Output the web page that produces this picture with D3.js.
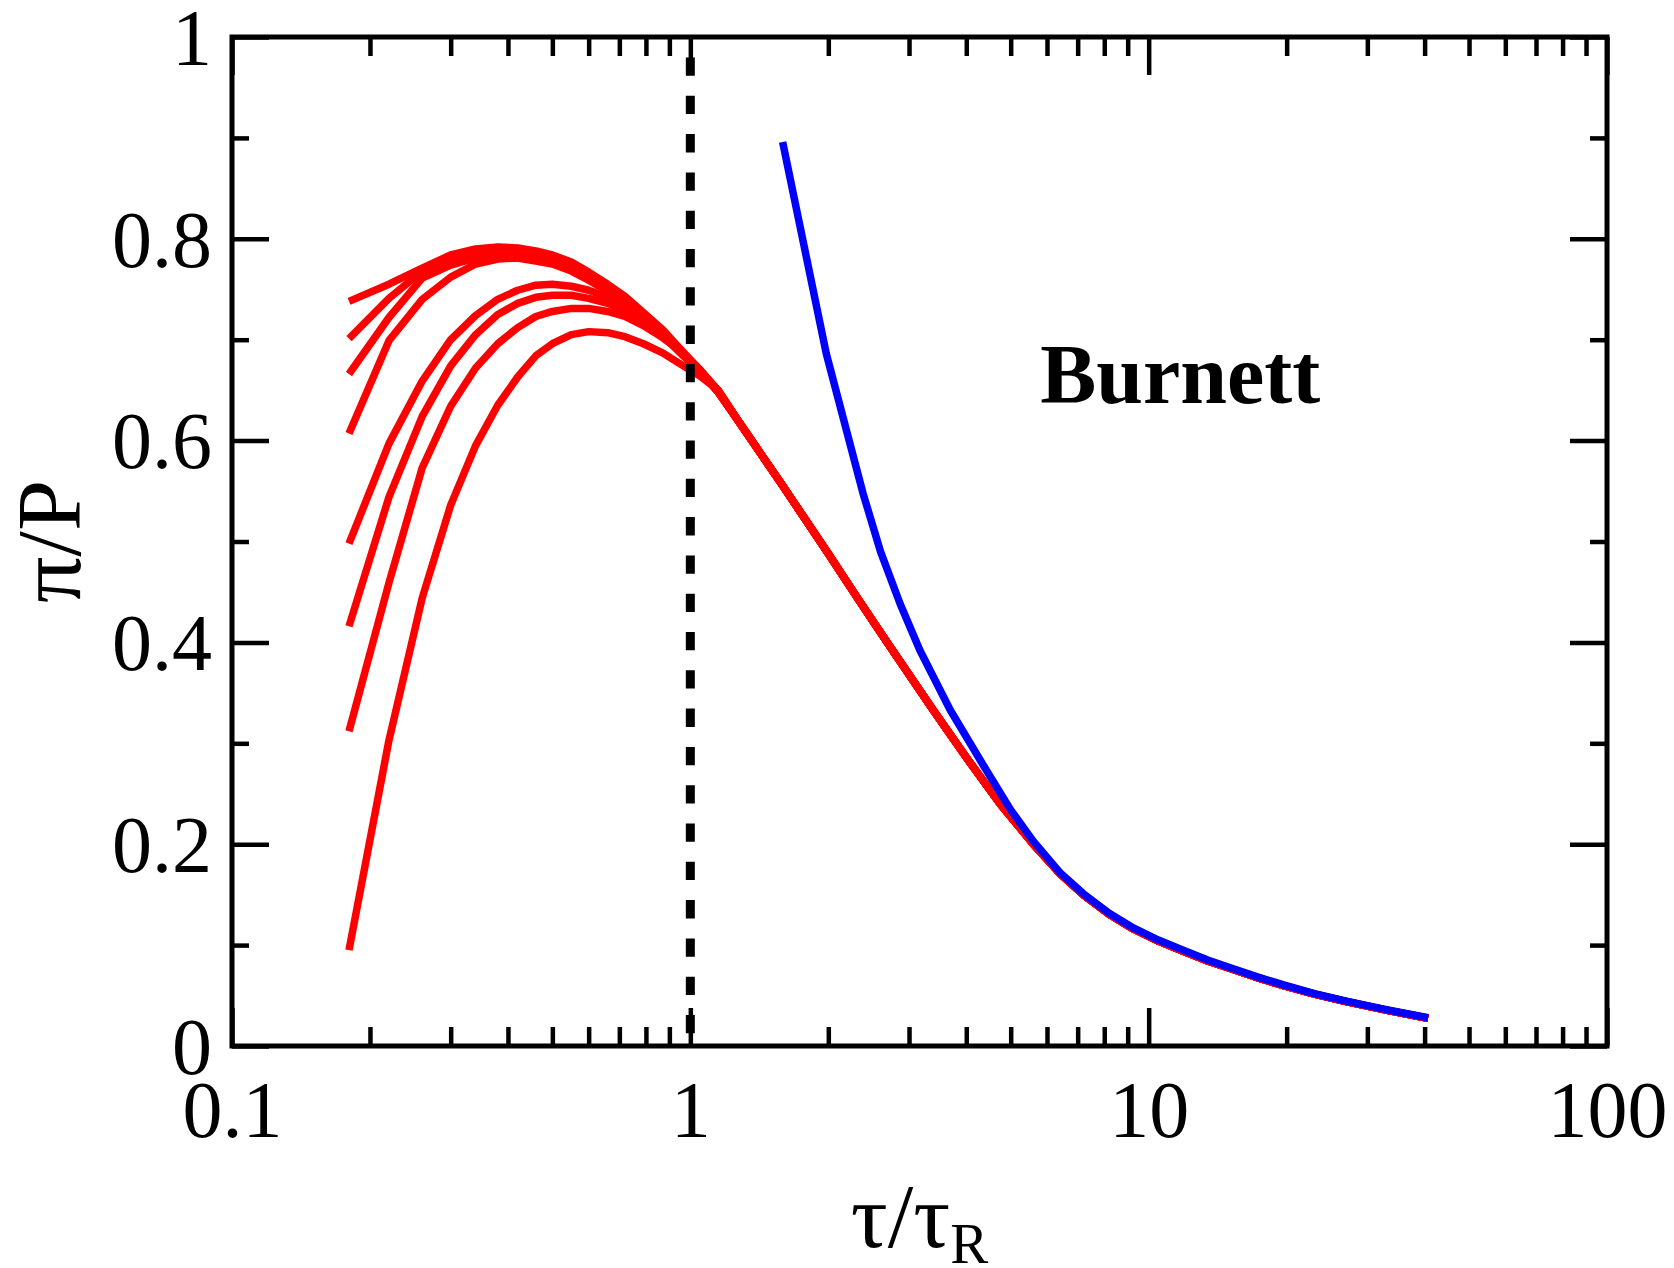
<!DOCTYPE html>
<html>
<head>
<meta charset="utf-8">
<script src="https://cdn.jsdelivr.net/npm/d3@7"></script>
<style>
  body { margin: 0; background: #fff; }
  svg { display: block; }
</style>
</head>
<body>
<div id="chart"></div>
<script>
// tick values
const xMajorTicks = [0.1, 1, 10, 100];
const xMinorTicks = [0.2, 0.3, 0.4, 0.5, 0.6, 0.7, 0.8, 0.9, 2, 3, 4, 5, 6, 7, 8, 9, 20, 30, 40, 50, 60, 70, 80, 90];
const yMajorTicks = [0, 0.2, 0.4, 0.6, 0.8, 1];
const yMinorTicks = [0.1, 0.3, 0.5, 0.7, 0.9];

// red curves: shared x grid for the early part, one y list per curve
const redHeadX = [0.18, 0.22, 0.26, 0.30, 0.34, 0.38, 0.42, 0.46, 0.50, 0.55, 0.60, 0.66, 0.72, 0.79, 0.87, 0.95, 1.05, 1.15];
const red1 = [0.738, 0.755, 0.771, 0.784, 0.790, 0.792, 0.791, 0.788, 0.784, 0.777, 0.767, 0.755, 0.743, 0.727, 0.710, 0.691, 0.670, 0.648];
const red2 = [0.701, 0.741, 0.768, 0.780, 0.786, 0.788, 0.787, 0.785, 0.781, 0.774, 0.765, 0.753, 0.741, 0.725, 0.708, 0.690, 0.669, 0.648];
const red3 = [0.666, 0.722, 0.761, 0.774, 0.781, 0.784, 0.784, 0.782, 0.779, 0.772, 0.763, 0.752, 0.740, 0.724, 0.707, 0.689, 0.669, 0.648];
const red4 = [0.607, 0.699, 0.740, 0.762, 0.775, 0.780, 0.781, 0.778, 0.775, 0.768, 0.759, 0.748, 0.736, 0.721, 0.704, 0.687, 0.668, 0.648];
const red5 = [0.498, 0.597, 0.659, 0.700, 0.724, 0.740, 0.749, 0.754, 0.755, 0.753, 0.749, 0.742, 0.734, 0.722, 0.707, 0.690, 0.670, 0.649];
const red6 = [0.416, 0.544, 0.624, 0.674, 0.705, 0.725, 0.736, 0.742, 0.744, 0.744, 0.741, 0.736, 0.729, 0.719, 0.705, 0.690, 0.670, 0.649];
const red7 = [0.312, 0.459, 0.573, 0.634, 0.672, 0.696, 0.712, 0.723, 0.728, 0.731, 0.731, 0.728, 0.723, 0.714, 0.702, 0.689, 0.670, 0.650];
const red8 = [0.095, 0.303, 0.444, 0.536, 0.595, 0.635, 0.663, 0.684, 0.696, 0.705, 0.708, 0.707, 0.703, 0.696, 0.687, 0.676, 0.664, 0.650];

// common tail all red curves share after they merge
const redTailX = [1.27, 1.4, 1.57, 1.8, 2.02, 2.3, 2.59, 2.9, 3.4, 4.0, 4.74, 5.6, 6.4, 7.2, 8.2, 9.26, 10.5, 11.9, 13.5, 15.3, 17.4, 19.7, 23, 27, 33, 40.7];
const redTailY = [0.620, 0.592, 0.559, 0.519, 0.485, 0.446, 0.411, 0.378, 0.332, 0.286, 0.240, 0.200, 0.171, 0.150, 0.1305, 0.116, 0.104, 0.094, 0.084, 0.0758, 0.0672, 0.0598, 0.0515, 0.044, 0.0355, 0.0275];

// Burnett (blue)
const burnettX = [1.59, 1.98, 2.38, 2.6, 2.87, 3.17, 3.69, 4.36, 5.0, 5.6, 6.4, 7.2, 8.2, 9.26, 10.5, 11.9, 13.5, 15.3, 17.4, 19.7, 23, 27, 33, 40.7];
const burnettY = [0.896, 0.686, 0.548, 0.490, 0.438, 0.392, 0.333, 0.278, 0.234, 0.203, 0.172, 0.151, 0.1315, 0.117, 0.105, 0.095, 0.085, 0.0765, 0.068, 0.0605, 0.052, 0.0445, 0.036, 0.028];

// vertical reference line and label
const refLineX = 1;
const labelText = "Burnett";
const labelPos = [5.8, 0.637];

const width = 1674, height = 1268;
const margin = {top: 37, right: 67, bottom: 222, left: 232};
const serif = '"Liberation Serif", "Times New Roman", Times, serif';

const svg = d3.select("#chart")
  .append("svg")
    .attr("width", width)
    .attr("height", height);

const x = d3.scaleLog()
  .domain([0.1, 100])
  .range([margin.left, width - margin.right]);
const y = d3.scaleLinear()
  .domain([0, 1])
  .range([height - margin.bottom, margin.top]);

const line = d3.line()
  .x(function(d) { return x(d[0]); })
  .y(function(d) { return y(d[1]); });

// red curves
const redHeads = [red1, red2, red3, red4, red5, red6, red7, red8];
const tail = d3.zip(redTailX, redTailY);
svg.selectAll(".red")
  .data(redHeads)
  .enter()
  .append("path")
    .attr("class", "red")
    .attr("d", function(h) { return line(d3.zip(redHeadX, h).concat(tail)); })
    .attr("fill", "none")
    .attr("stroke", "#ff0000")
    .attr("stroke-width", 7.5)
    .attr("stroke-linejoin", "round");

// blue curve
svg.append("path")
  .attr("d", line(d3.zip(burnettX, burnettY)))
  .attr("fill", "none")
  .attr("stroke", "#0000ff")
  .attr("stroke-width", 7.5)
  .attr("stroke-linejoin", "round");

// dashed line at tau = tau_R
svg.append("line")
  .attr("x1", x(refLineX)).attr("x2", x(refLineX))
  .attr("y1", y(1)).attr("y2", y(0))
  .attr("stroke", "#000")
  .attr("stroke-width", 9)
  .attr("stroke-dasharray", "18.3,20")
  .attr("stroke-dashoffset", 17.8);

// axes, ticks on all four sides pointing inward
const fmt = d3.format("~g");
function styleAxis(g) {
  g.select(".domain").remove();
  g.selectAll(".tick line").attr("stroke", "#000").attr("stroke-width", 4.5);
  g.selectAll("text")
    .attr("fill", "#000")
    .style("font-family", serif)
    .style("font-size", "80px");
}

svg.append("g")
  .attr("transform", "translate(0," + y(0) + ")")
  .call(d3.axisBottom(x).tickValues(xMinorTicks).tickSize(-19).tickFormat(""))
  .call(styleAxis);
svg.append("g")
  .attr("transform", "translate(0," + y(0) + ")")
  .call(d3.axisBottom(x).tickValues(xMajorTicks).tickSize(-38).tickPadding(34).tickFormat(fmt))
  .call(styleAxis);

svg.append("g")
  .attr("transform", "translate(0," + y(1) + ")")
  .call(d3.axisTop(x).tickValues(xMinorTicks).tickSize(-19).tickFormat(""))
  .call(styleAxis);
svg.append("g")
  .attr("transform", "translate(0," + y(1) + ")")
  .call(d3.axisTop(x).tickValues(xMajorTicks).tickSize(-38).tickFormat(""))
  .call(styleAxis);

svg.append("g")
  .attr("transform", "translate(" + x(0.1) + ",0)")
  .call(d3.axisLeft(y).tickValues(yMinorTicks).tickSize(-17).tickFormat(""))
  .call(styleAxis);
let yAxis = svg.append("g")
  .attr("transform", "translate(" + x(0.1) + ",0)")
  .call(d3.axisLeft(y).tickValues(yMajorTicks).tickSize(-37).tickPadding(20).tickFormat(fmt))
  .call(styleAxis);
yAxis.selectAll("text").attr("dy", "0.34em");

svg.append("g")
  .attr("transform", "translate(" + x(100) + ",0)")
  .call(d3.axisRight(y).tickValues(yMinorTicks).tickSize(-17).tickFormat(""))
  .call(styleAxis);
svg.append("g")
  .attr("transform", "translate(" + x(100) + ",0)")
  .call(d3.axisRight(y).tickValues(yMajorTicks).tickSize(-37).tickFormat(""))
  .call(styleAxis);

// frame
svg.append("rect")
  .attr("x", x(0.1))
  .attr("y", y(1))
  .attr("width", x(100) - x(0.1))
  .attr("height", y(0) - y(1))
  .attr("fill", "none")
  .attr("stroke", "#000")
  .attr("stroke-width", 5);

// axis titles
let xt = svg.append("text")
  .attr("x", (x(0.1) + x(100)) / 2)
  .attr("y", 1247)
  .attr("text-anchor", "middle")
  .style("font-family", serif)
  .style("font-size", "92px");
xt.append("tspan").text("τ/τ");
xt.append("tspan").attr("dy", 16).style("font-size", "57px").text("R");

svg.append("text")
  .attr("transform", "translate(80," + ((y(0) + y(1)) / 2) + ") rotate(-90)")
  .attr("text-anchor", "middle")
  .style("font-family", serif)
  .style("font-size", "92px")
  .text("π/P");

svg.append("text")
  .attr("x", x(labelPos[0]))
  .attr("y", y(labelPos[1]))
  .style("font-family", serif)
  .style("font-size", "84px")
  .style("font-weight", "bold")
  .text(labelText);
</script>
</body>
</html>
